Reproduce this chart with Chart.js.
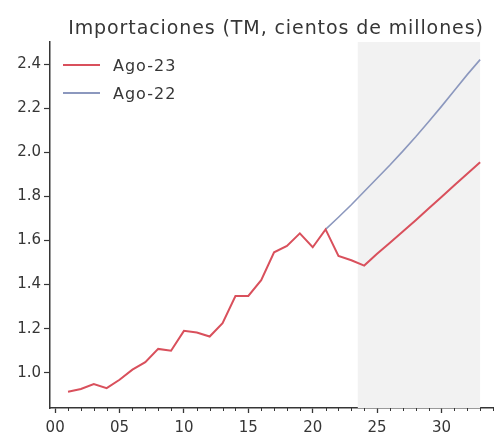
<!DOCTYPE html>
<html>
<head>
<meta charset="utf-8">
<script src="https://cdn.jsdelivr.net/npm/chart.js@4.4.0/dist/chart.umd.min.js"></script>
<style>
  html, body { margin: 0; padding: 0; background: #fff; }
  #wrap { width: 495px; height: 437px; position: relative; }
</style>
</head>
<body>
<div id="wrap"><canvas id="c" width="495" height="437"></canvas></div>
<script>
// Years as offsets from 2000
const years = [1,2,3,4,5,6,7,8,9,10,11,12,13,14,15,16,17,18,19,20,21,22,23,24,25,26,27,28,29,30,31,32,33];

// Imports, hundreds of millions of tonnes
const ago23 = [0.914,0.926,0.949,0.930,0.968,1.014,1.048,1.108,1.100,1.190,1.182,1.164,1.225,1.348,1.348,1.420,1.546,1.575,1.632,1.569,1.650,1.530,1.510,1.486,1.540,1.590,1.640,1.692,1.745,1.797,1.850,1.902,1.955];
const ago22Years = [21,22,23,24,25,26,27,28,29,30,31,32,33];
const ago22 = [1.650,1.705,1.762,1.822,1.882,1.942,2.005,2.070,2.138,2.208,2.280,2.352,2.420];

const xTicks = [0,5,10,15,20,25,30];
const yTicks = [1.0,1.2,1.4,1.6,1.8,2.0,2.2,2.4];
const forecastRange = [23.5, 33];

const titleText = 'Importaciones (TM, cientos de millones)';
const FONT = "'DejaVu Sans', sans-serif";
const INK = '#363636';

const pts = (xs, ys) => xs.map((x, i) => ({ x: x, y: ys[i] }));

const shadePlugin = {
  id: 'forecastShade',
  beforeDatasetsDraw(chart) {
    const { ctx, chartArea, scales } = chart;
    const x0 = scales.x.getPixelForValue(forecastRange[0]);
    const x1 = scales.x.getPixelForValue(forecastRange[1]);
    ctx.save();
    ctx.fillStyle = '#f2f2f2';
    ctx.fillRect(x0, chartArea.top, x1 - x0, chartArea.bottom - chartArea.top);
    ctx.restore();
  }
};

const decorPlugin = {
  id: 'decor',
  afterDraw(chart) {
    const { ctx, chartArea, scales } = chart;
    ctx.save();
    // minor year ticks
    ctx.strokeStyle = INK;
    ctx.lineWidth = 1;
    for (let v = 0; v <= 34; v++) {
      if (v % 5 === 0) continue;
      const px = Math.round(scales.x.getPixelForValue(v)) + 0.5;
      ctx.beginPath();
      ctx.moveTo(px, chartArea.bottom);
      ctx.lineTo(px, chartArea.bottom + 3);
      ctx.stroke();
    }
    // title
    ctx.fillStyle = INK;
    ctx.font = "19px " + FONT;
    ctx.letterSpacing = '0.9px';
    ctx.textAlign = 'center';
    ctx.textBaseline = 'alphabetic';
    ctx.fillText(titleText, 276, 34);
    // legend
    ctx.font = "16px " + FONT;
    ctx.letterSpacing = '1px';
    ctx.textAlign = 'left';
    ctx.textBaseline = 'middle';
    chart.data.datasets.forEach((ds, i) => {
      const y = 65 + i * 28;
      ctx.strokeStyle = ds.borderColor;
      ctx.lineWidth = 2;
      ctx.beginPath();
      ctx.moveTo(63, y);
      ctx.lineTo(100, y);
      ctx.stroke();
      ctx.fillStyle = INK;
      ctx.fillText(ds.label, 113, y + 2);
    });
    ctx.restore();
  }
};

new Chart(document.getElementById('c'), {
  type: 'line',
  data: {
    datasets: [
      { label: 'Ago-23', data: pts(years, ago23), borderColor: '#d9505c', borderWidth: 2, pointRadius: 0, tension: 0, order: 1 },
      { label: 'Ago-22', data: pts(ago22Years, ago22), borderColor: '#8c98be', borderWidth: 1.6, pointRadius: 0, tension: 0, order: 2 }
    ]
  },
  options: {
    responsive: false,
    animation: false,
    layout: { padding: { top: 42, right: 2, left: 0, bottom: 0 } },
    plugins: { legend: { display: false }, title: { display: false }, tooltip: { enabled: false } },
    scales: {
      x: {
        type: 'linear',
        min: -0.4,
        max: 34,
        afterFit(s) { s.height = 29; },
        afterBuildTicks(s) { s.ticks = xTicks.map(v => ({ value: v })); },
        ticks: {
          color: INK,
          font: { family: FONT, size: 15 },
          padding: 6,
          maxRotation: 0,
          autoSkip: false,
          callback: v => String(v).padStart(2, '0')
        },
        grid: { drawOnChartArea: false, drawTicks: true, tickLength: 5, tickColor: INK, tickWidth: 1.3 },
        border: { display: true, color: INK, width: 1.5 }
      },
      y: {
        type: 'linear',
        min: 0.84,
        max: 2.5,
        afterFit(s) { s.width = 50; },
        afterBuildTicks(s) { s.ticks = yTicks.map(v => ({ value: v })); },
        ticks: {
          color: INK,
          font: { family: FONT, size: 15 },
          padding: 3,
          autoSkip: false,
          callback: v => v.toFixed(1)
        },
        grid: { drawOnChartArea: false, drawTicks: true, tickLength: 6, tickColor: INK, tickWidth: 1.2 },
        border: { display: true, color: INK, width: 1.5 }
      }
    }
  },
  plugins: [shadePlugin, decorPlugin]
});
</script>
</body>
</html>
